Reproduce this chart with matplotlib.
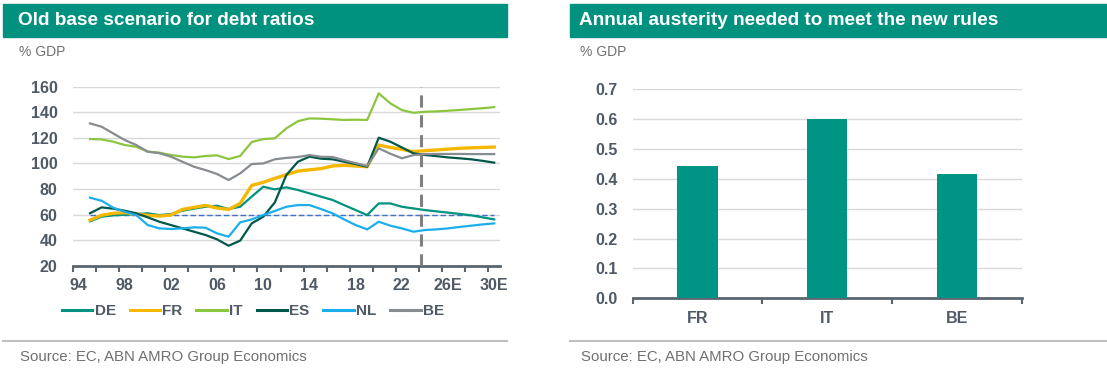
import matplotlib.pyplot as plt
from matplotlib.patches import Rectangle
from matplotlib.lines import Line2D

plt.rcParams['font.family'] = ['Liberation Sans', 'DejaVu Sans']

# Debt ratios (% GDP), 1995-2030
years = list(range(1995, 2031))
de = [54.7, 58.3, 59.4, 59.9, 60.4, 61.0, 59.6, 60.4, 63.0, 64.6, 66.1, 66.9, 64.3, 66.1,
      74.0, 81.8, 79.7, 81.3, 79.2, 76.6, 74.0, 71.4, 67.4, 63.5, 59.6, 68.7, 68.7, 66.1,
      64.8, 63.5, 62.5, 61.5, 60.5, 59.4, 57.8, 56.2]
fr = [55.7, 59.4, 61.0, 61.5, 60.4, 59.4, 58.8, 59.6, 64.0, 65.6, 67.2, 65.1, 64.0, 68.7,
      82.8, 85.2, 88.3, 91.2, 94.0, 95.0, 95.9, 98.0, 98.5, 98.0, 97.4, 114.4, 112.5, 111.0,
      109.2, 110.0, 110.5, 111.2, 111.8, 112.2, 112.5, 112.8]
it = [119.0, 118.8, 117.0, 114.4, 113.0, 109.2, 108.4, 106.6, 105.3, 104.7, 105.8, 106.3,
      103.4, 105.8, 116.7, 119.0, 119.6, 127.4, 133.0, 135.2, 135.0, 134.5, 134.0, 134.2,
      134.0, 154.8, 147.0, 141.7, 139.6, 140.4, 140.7, 141.2, 141.8, 142.5, 143.2, 144.0]
es = [61.0, 65.6, 64.6, 63.0, 61.0, 57.8, 54.4, 51.8, 49.2, 46.6, 44.0, 40.6, 35.6, 39.6,
      53.1, 58.3, 69.5, 90.9, 101.3, 105.3, 103.7, 103.2, 101.3, 99.5, 97.4, 120.1, 117.0,
      112.5, 107.9, 106.6, 105.7, 104.7, 104.0, 103.2, 102.0, 100.6]
nl = [73.2, 70.8, 65.4, 62.2, 59.6, 51.8, 49.2, 48.7, 49.2, 50.0, 49.7, 45.3, 42.7, 53.9,
      56.2, 59.6, 62.8, 66.1, 67.4, 67.4, 64.3, 61.0, 56.2, 51.8, 48.4, 54.4, 51.3, 49.2,
      46.6, 47.9, 48.4, 49.2, 50.3, 51.3, 52.3, 53.1]
be = [131.3, 128.7, 123.5, 118.3, 114.4, 109.2, 108.0, 105.3, 101.3, 97.4, 94.8, 91.7,
      87.0, 92.2, 99.5, 100.0, 103.2, 104.3, 105.0, 106.5, 105.2, 105.0, 102.5, 100.2,
      98.0, 111.8, 107.6, 104.0, 106.5, 107.3, 107.4, 107.4, 107.4, 107.3, 107.3, 107.3]

x_labels = ['94', '98', '02', '06', '10', '14', '18', '22', '26E', '30E']
x_label_years = [1994, 1998, 2002, 2006, 2010, 2014, 2018, 2022, 2026, 2030]

# Austerity bars
countries = ['FR', 'IT', 'BE']
austerity = [0.443, 0.600, 0.415]

teal = '#00917F'
tick_col = '#4F5A66'
grid_col = '#D9D9D9'
axis_col = '#5B6570'

fig = plt.figure(figsize=(11.07, 3.74), dpi=100)
W, H = 1107, 374


def fx(px):
    return px / W


def fy(py):
    return 1 - py / H


# title bands, sub labels and source lines
for x0, x1, title, sx in [(3, 507, 'Old base scenario for debt ratios', 18),
                          (570, 1107, 'Annual austerity needed to meet the new rules', 579)]:
    fig.patches.append(Rectangle((fx(x0), fy(37)), fx(x1 - x0), (37 - 4) / H,
                                 transform=fig.transFigure, color=teal, zorder=0))
    fig.text(fx(sx), fy(20.5), title, color='white', fontsize=13.7, fontweight='bold',
             va='center', ha='left')
    fig.text(fx(sx + 1), fy(52), '% GDP', color='#707070', fontsize=10, va='center')
    fig.lines.append(Line2D([fx(x0), fx(x1)], [fy(341), fy(341)], transform=fig.transFigure,
                            color='#BFBFBF', lw=1.5))
    fig.text(fx(sx + 2), fy(356.5), 'Source: EC, ABN AMRO Group Economics', color='#707070',
             fontsize=10.8, va='center')

# left chart
ax = fig.add_axes([fx(72.7), fy(265.7), fx(500 - 72.7), (265.7 - 86.7) / H])
series = [('DE', de, '#00937F', 1.6), ('FR', fr, '#F5B700', 2.4), ('IT', it, '#8CC63E', 1.6),
          ('ES', es, '#00574A', 1.6), ('NL', nl, '#1BAEEA', 1.6), ('BE', be, '#878C91', 1.6)]
for name, vals, col, lw in series:
    ax.plot(years, vals, color=col, lw=lw, label=name, zorder=3)
ax.plot([years[0], years[-1]], [60, 60], color='#4472C4', lw=1, ls=(0, (4, 2)), zorder=2)
ax.axvline(2023.7, color='#808080', lw=2.2, ls=(0, (4, 2.5)), zorder=4)

ax.set_xlim(1993.5, 2030.5)
ax.set_ylim(20, 160)
ax.set_yticks(range(20, 161, 20))
ax.set_xticks(x_label_years)
ax.set_xticklabels(x_labels)
ax.set_xticks([1993.5 + 2 * i for i in range(19)], minor=True)
ax.tick_params(axis='x', which='major', length=0, pad=9)
ax.tick_params(axis='x', which='minor', length=4, width=1.5, color=axis_col, direction='out')
ax.tick_params(axis='y', length=0, pad=11)
for lab in ax.get_xticklabels() + ax.get_yticklabels():
    lab.set_fontweight('bold')
    lab.set_fontsize(11.5)
    lab.set_color(tick_col)
ax.grid(axis='y', color=grid_col, lw=1)
ax.set_axisbelow(True)
for s in ['top', 'right', 'left']:
    ax.spines[s].set_visible(False)
ax.spines['bottom'].set_color(axis_col)
ax.spines['bottom'].set_linewidth(2)

leg = fig.legend(*ax.get_legend_handles_labels(), loc='center', ncol=6,
                 bbox_to_anchor=(fx(253), fy(311)), frameon=False, handlelength=2.0,
                 handletextpad=0.15, columnspacing=0.9,
                 prop={'weight': 'bold', 'size': 11})
for t in leg.get_texts():
    t.set_color(tick_col)
for h in leg.get_lines():
    h.set_linewidth(2.2)

# right chart
ax2 = fig.add_axes([fx(632.7), fy(298.3), fx(1021.7 - 632.7), (298.3 - 89.3) / H])
ax2.bar(range(len(countries)), austerity, width=0.31, color='#009485', zorder=3)
ax2.set_xlim(-0.5, 2.5)
ax2.set_ylim(0, 0.7)
ax2.set_yticks([i / 10 for i in range(8)])
ax2.set_yticklabels([f'{i / 10:.1f}' for i in range(8)])
ax2.set_xticks(range(len(countries)))
ax2.set_xticklabels(countries)
ax2.set_xticks([-0.5, 0.5, 1.5, 2.5], minor=True)
ax2.tick_params(axis='x', which='major', length=0, pad=9)
ax2.tick_params(axis='x', which='minor', length=4, width=1.5, color=axis_col, direction='out')
ax2.tick_params(axis='y', length=0, pad=11)
for lab in ax2.get_xticklabels() + ax2.get_yticklabels():
    lab.set_fontweight('bold')
    lab.set_fontsize(11.5)
    lab.set_color(tick_col)
ax2.grid(axis='y', color=grid_col, lw=1)
ax2.set_axisbelow(True)
for s in ['top', 'right', 'left']:
    ax2.spines[s].set_visible(False)
ax2.spines['bottom'].set_color(axis_col)
ax2.spines['bottom'].set_linewidth(2)

fig.savefig('out.png', dpi=100)
